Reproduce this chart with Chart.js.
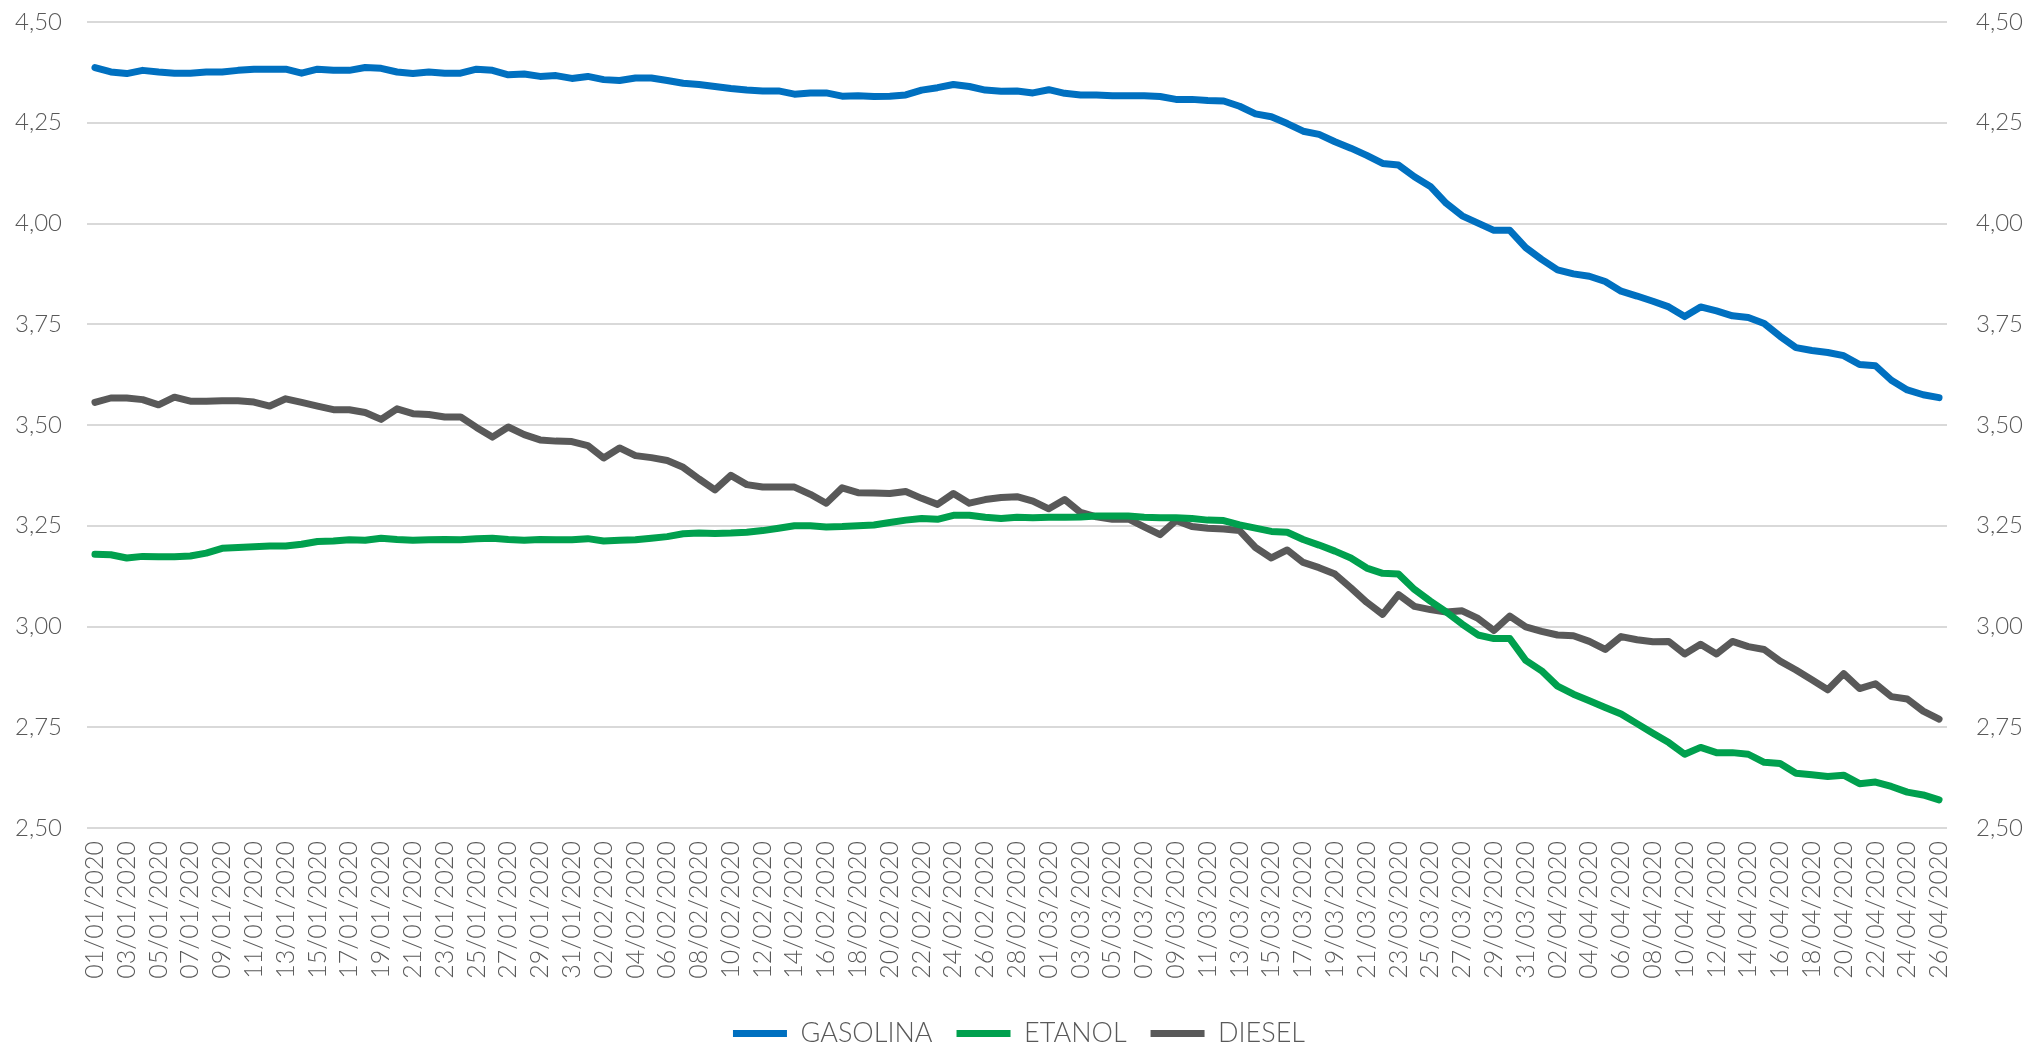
<!DOCTYPE html>
<html>
<head>
<meta charset="utf-8">
<script src="https://cdn.jsdelivr.net/npm/chart.js@4/dist/chart.umd.min.js"></script>
<style>
  html, body { margin: 0; padding: 0; background: #fff; }
  #grafico { display: block; }
</style>
</head>
<body>
<canvas id="grafico" width="2032" height="1047"></canvas>
<script>
const datas = [
  "01/01/2020","02/01/2020","03/01/2020","04/01/2020","05/01/2020","06/01/2020","07/01/2020","08/01/2020",
  "09/01/2020","10/01/2020","11/01/2020","12/01/2020","13/01/2020","14/01/2020","15/01/2020","16/01/2020",
  "17/01/2020","18/01/2020","19/01/2020","20/01/2020","21/01/2020","22/01/2020","23/01/2020","24/01/2020",
  "25/01/2020","26/01/2020","27/01/2020","28/01/2020","29/01/2020","30/01/2020","31/01/2020",
  "01/02/2020","02/02/2020","03/02/2020","04/02/2020","05/02/2020","06/02/2020","07/02/2020","08/02/2020",
  "09/02/2020","10/02/2020","11/02/2020","12/02/2020","13/02/2020","14/02/2020","15/02/2020","16/02/2020",
  "17/02/2020","18/02/2020","19/02/2020","20/02/2020","21/02/2020","22/02/2020","23/02/2020","24/02/2020",
  "25/02/2020","26/02/2020","27/02/2020","28/02/2020","29/02/2020",
  "01/03/2020","02/03/2020","03/03/2020","04/03/2020","05/03/2020","06/03/2020","07/03/2020","08/03/2020",
  "09/03/2020","10/03/2020","11/03/2020","12/03/2020","13/03/2020","14/03/2020","15/03/2020","16/03/2020",
  "17/03/2020","18/03/2020","19/03/2020","20/03/2020","21/03/2020","22/03/2020","23/03/2020","24/03/2020",
  "25/03/2020","26/03/2020","27/03/2020","28/03/2020","29/03/2020","30/03/2020","31/03/2020",
  "01/04/2020","02/04/2020","03/04/2020","04/04/2020","05/04/2020","06/04/2020","07/04/2020","08/04/2020",
  "09/04/2020","10/04/2020","11/04/2020","12/04/2020","13/04/2020","14/04/2020","15/04/2020","16/04/2020",
  "17/04/2020","18/04/2020","19/04/2020","20/04/2020","21/04/2020","22/04/2020","23/04/2020","24/04/2020",
  "25/04/2020","26/04/2020"
];

const gasolina = [
  4.387, 4.376, 4.372, 4.380, 4.376, 4.373, 4.373, 4.376, 4.376, 4.380, 4.383, 4.383, 4.383, 4.373, 4.383, 4.380,
  4.380, 4.387, 4.385, 4.376, 4.372, 4.376, 4.373, 4.373, 4.383, 4.380, 4.369, 4.371, 4.365, 4.367, 4.360,
  4.365, 4.357, 4.355, 4.361, 4.361, 4.355, 4.348, 4.345, 4.340, 4.335, 4.331, 4.329, 4.329, 4.321, 4.324, 4.324,
  4.316, 4.317, 4.315, 4.316, 4.319, 4.331, 4.337, 4.345, 4.340, 4.331, 4.328, 4.329, 4.324, 4.332, 4.323, 4.319,
  4.319, 4.317, 4.317, 4.317, 4.315, 4.308, 4.308, 4.305, 4.304, 4.291, 4.272, 4.265, 4.248, 4.229, 4.221, 4.203,
  4.187, 4.169, 4.149, 4.145, 4.116, 4.092, 4.050, 4.019, 4.001, 3.983, 3.983, 3.940, 3.911, 3.885, 3.875,
  3.869, 3.856, 3.832, 3.820, 3.807, 3.793, 3.769, 3.793, 3.783, 3.771, 3.767, 3.752, 3.720, 3.692, 3.685, 3.680,
  3.672, 3.650, 3.647, 3.611, 3.587, 3.575, 3.568
];

const etanol = [
  3.179, 3.178, 3.170, 3.174, 3.173, 3.173, 3.175, 3.182, 3.194, 3.196, 3.198, 3.200, 3.200, 3.204, 3.211, 3.212,
  3.215, 3.214, 3.219, 3.216, 3.214, 3.215, 3.216, 3.215, 3.218, 3.219, 3.216, 3.214, 3.216, 3.215, 3.215,
  3.218, 3.212, 3.214, 3.215, 3.219, 3.223, 3.230, 3.232, 3.231, 3.232, 3.234, 3.238, 3.244, 3.250, 3.250, 3.247,
  3.248, 3.250, 3.252, 3.258, 3.264, 3.268, 3.266, 3.276, 3.276, 3.271, 3.268, 3.271, 3.270, 3.271, 3.271, 3.272,
  3.274, 3.274, 3.274, 3.271, 3.270, 3.270, 3.268, 3.264, 3.263, 3.252, 3.244, 3.236, 3.234, 3.216, 3.202, 3.187,
  3.170, 3.145, 3.132, 3.130, 3.092, 3.063, 3.036, 3.006, 2.979, 2.970, 2.970, 2.916, 2.890, 2.852, 2.832,
  2.816, 2.799, 2.783, 2.759, 2.735, 2.712, 2.683, 2.700, 2.687, 2.687, 2.683, 2.663, 2.660, 2.636, 2.632, 2.628,
  2.631, 2.610, 2.614, 2.603, 2.589, 2.582, 2.570
];

const diesel = [
  3.556, 3.567, 3.567, 3.563, 3.550, 3.569, 3.559, 3.559, 3.560, 3.560, 3.557, 3.547, 3.565, 3.556, 3.547, 3.538,
  3.538, 3.531, 3.514, 3.540, 3.528, 3.526, 3.520, 3.520, 3.494, 3.470, 3.495, 3.476, 3.463, 3.460, 3.459,
  3.449, 3.418, 3.443, 3.424, 3.419, 3.412, 3.395, 3.366, 3.339, 3.375, 3.352, 3.346, 3.346, 3.346, 3.328, 3.306,
  3.344, 3.332, 3.331, 3.330, 3.335, 3.318, 3.303, 3.330, 3.306, 3.315, 3.320, 3.322, 3.311, 3.292, 3.315, 3.283,
  3.272, 3.266, 3.267, 3.247, 3.228, 3.263, 3.248, 3.244, 3.242, 3.238, 3.196, 3.170, 3.190, 3.159, 3.146, 3.130,
  3.096, 3.060, 3.030, 3.079, 3.050, 3.042, 3.036, 3.039, 3.020, 2.990, 3.026, 2.999, 2.988, 2.979, 2.977,
  2.963, 2.943, 2.975, 2.967, 2.962, 2.963, 2.932, 2.956, 2.932, 2.963, 2.950, 2.943, 2.914, 2.892, 2.868, 2.843,
  2.883, 2.846, 2.858, 2.826, 2.820, 2.790, 2.770
];

const eixoMin = 2.5;
const eixoMax = 4.5;
const passo = 0.25;

const corTexto = "#595959";
const fonte = "Lato, 'Open Sans', sans-serif";

function formatar(v) {
  return Number(v).toFixed(2).replace(".", ",");
}

function serie(nome, valores, cor) {
  return {
    label: nome,
    data: valores,
    borderColor: cor,
    backgroundColor: cor,
    borderWidth: 7,
    borderCapStyle: "round",
    borderJoinStyle: "round",
    pointRadius: 0,
    tension: 0,
    fill: false
  };
}

const ctx = document.getElementById("grafico").getContext("2d");

new Chart(ctx, {
  type: "line",
  data: {
    labels: datas,
    datasets: [
      serie("GASOLINA", gasolina, "#0070C0"),
      serie("ETANOL", etanol, "#00A04E"),
      serie("DIESEL", diesel, "#595959")
    ]
  },
  options: {
    responsive: false,
    animation: false,
    devicePixelRatio: 1,
    // ticks.padding soma ao topo nos eixos verticais, por isso o alinhamento vem do crossAlign
    layout: { padding: { top: 22, bottom: -10, left: 15, right: 9 } },
    plugins: {
      tooltip: { enabled: false },
      legend: {
        position: "bottom",
        labels: {
          usePointStyle: true,
          pointStyle: "line",
          pointStyleWidth: 54,
          padding: 24,
          color: corTexto,
          font: { family: fonte, size: 27, weight: "300" }
        }
      }
    },
    scales: {
      x: {
        offset: true,
        grid: { display: false, drawTicks: false },
        border: { display: false },
        ticks: {
          autoSkip: false,
          maxRotation: 90,
          minRotation: 90,
          padding: 13,
          color: corTexto,
          font: { family: fonte, size: 25, weight: "300" },
          callback: (v, i) => (i % 2 === 0 ? datas[i] : "")
        },
        afterFit: s => { s.height = 168; }
      },
      y: {
        min: eixoMin,
        max: eixoMax,
        grid: { color: "#D9D9D9", lineWidth: 2, drawTicks: false },
        border: { display: false },
        ticks: {
          stepSize: passo,
          padding: 0,
          crossAlign: "far",
          color: corTexto,
          font: { family: fonte, size: 24, weight: "300" },
          callback: formatar
        },
        afterFit: s => { s.width = 72; }
      },
      y2: {
        position: "right",
        min: eixoMin,
        max: eixoMax,
        grid: { display: false, drawTicks: false },
        border: { display: false },
        ticks: {
          stepSize: passo,
          padding: 0,
          crossAlign: "far",
          color: corTexto,
          font: { family: fonte, size: 24, weight: "300" },
          callback: formatar
        },
        afterFit: s => { s.width = 76; }
      }
    }
  }
});
</script>
</body>
</html>
